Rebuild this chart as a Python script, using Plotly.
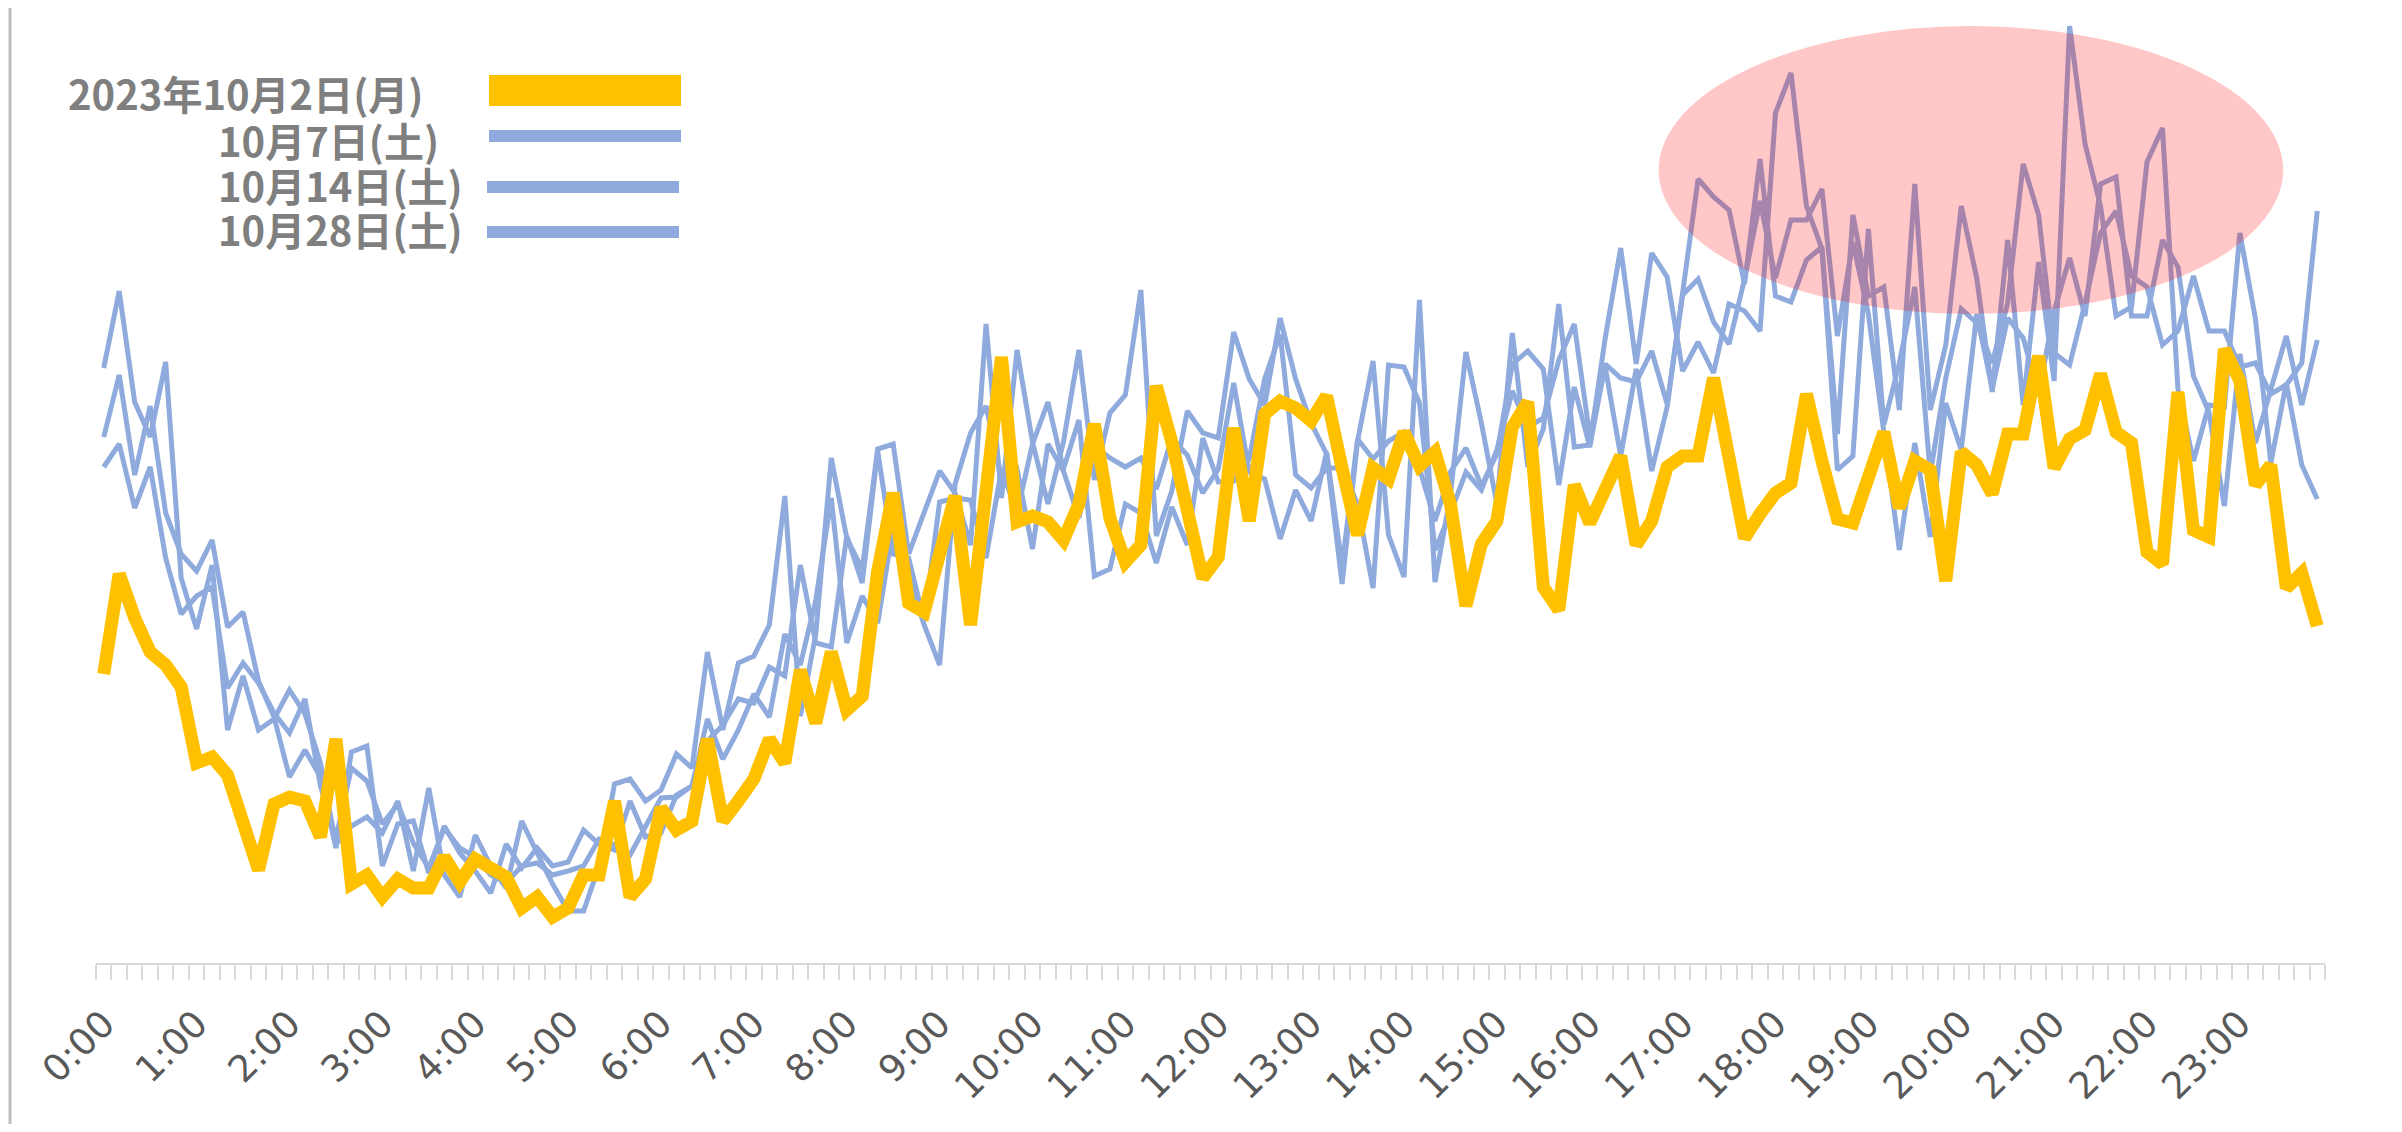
import plotly.graph_objects as go

# 10-minute slots, 0:00 .. 23:50
slots = list(range(144))
hour_ticks = list(range(0, 144, 6))
hour_labels = [f"{h}:00" for h in range(24)]

series_names = ["2023年10月2日(月)", "10月7日(土)", "10月14日(土)", "10月28日(土)"]

oct02 = [289, 389, 345, 311, 298, 276, 200, 206, 188, 140, 93, 159, 166, 162, 126, 224, 79, 88,
         66, 84, 75, 75, 106, 81, 104, 95, 86, 55, 66, 46, 55, 88, 88, 162, 66, 84,
         155, 133, 142, 224, 142, 162, 184, 224, 200, 293, 240, 311, 253, 267, 392, 470, 360, 351,
         412, 467, 338, 472, 606, 441, 447, 441, 423, 459, 539, 445, 401, 418, 577, 521, 454, 385,
         406, 535, 442, 549, 562, 555, 542, 567, 495, 428, 495, 484, 531, 497, 511, 459, 357, 419,
         442, 536, 561, 376, 353, 478, 440, 474, 507, 418, 442, 496, 507, 507, 585, 505, 425, 449,
         470, 480, 569, 502, 444, 440, 489, 531, 455, 502, 493, 382, 511, 498, 469, 529, 529, 607,
         495, 524, 533, 589, 531, 520, 411, 399, 571, 433, 426, 614, 582, 478, 498, 375, 390, 337]

oct07 = [595, 672, 561, 526, 601, 385, 334, 398, 233, 287, 233, 244, 273, 249, 200, 119, 137, 146,
         130, 162, 92, 175, 88, 66, 128, 97, 75, 142, 110, 79, 52, 52, 97, 179, 184, 162,
         173, 209, 195, 311, 233, 300, 307, 338, 467, 247, 329, 505, 425, 394, 514, 519, 409, 450,
         492, 470, 418, 639, 465, 613, 521, 459, 521, 613, 483, 550, 568, 673, 427, 472, 552, 530,
         525, 631, 584, 558, 645, 584, 540, 509, 379, 522, 602, 428, 386, 663, 381, 468, 611, 540,
         459, 630, 496, 534, 659, 516, 518, 625, 715, 599, 710, 686, 592, 621, 590, 659, 652, 632,
         850, 890, 757, 714, 529, 748, 667, 676, 553, 779, 553, 618, 757, 685, 571, 723, 558, 701,
         582, 937, 819, 757, 647, 656, 801, 835, 574, 502, 558, 556, 730, 645, 500, 580, 498, 464]

oct14 = [526, 588, 488, 557, 450, 409, 392, 423, 336, 351, 282, 246, 186, 213, 186, 115, 211, 217,
         97, 139, 142, 90, 137, 110, 92, 70, 119, 95, 115, 97, 101, 133, 119, 113, 162, 126,
         130, 168, 177, 244, 204, 233, 269, 246, 329, 298, 363, 465, 320, 367, 340, 436, 387, 338,
         298, 479, 530, 557, 485, 494, 414, 519, 492, 445, 517, 505, 496, 505, 474, 525, 508, 470,
         494, 580, 491, 484, 424, 473, 442, 511, 397, 524, 504, 522, 531, 495, 442, 491, 515, 477,
         509, 599, 612, 594, 478, 576, 516, 599, 585, 581, 612, 559, 668, 684, 641, 619, 684, 762,
         685, 743, 743, 774, 627, 721, 649, 533, 413, 520, 426, 560, 513, 649, 574, 645, 625, 569,
         652, 705, 647, 779, 786, 647, 647, 723, 696, 587, 551, 457, 609, 520, 574, 627, 558, 623]

oct28 = [496, 519, 455, 496, 405, 349, 367, 376, 275, 300, 280, 250, 230, 264, 177, 125, 195, 182,
         139, 159, 120, 95, 135, 115, 106, 88, 80, 97, 100, 88, 92, 97, 124, 118, 108, 137,
         165, 166, 177, 222, 238, 264, 260, 296, 287, 398, 320, 316, 427, 380, 512, 409, 405, 342,
         461, 465, 463, 405, 494, 450, 519, 561, 494, 543, 387, 394, 459, 450, 400, 456, 418, 525,
         481, 482, 504, 584, 629, 488, 475, 495, 495, 459, 375, 598, 596, 560, 413, 450, 491, 473,
         513, 572, 536, 545, 603, 639, 527, 596, 507, 594, 492, 556, 666, 784, 766, 753, 679, 804,
         667, 661, 703, 716, 493, 507, 734, 538, 600, 676, 489, 585, 654, 640, 600, 660, 799, 748,
         610, 598, 660, 730, 752, 687, 676, 618, 632, 687, 632, 632, 596, 600, 569, 578, 600, 752]

YELLOW = "#FFC000"
BLUE = "#8FAADC"

fig = go.Figure()
for name, vals in zip(series_names[1:], [oct07, oct14, oct28]):
    fig.add_trace(go.Scatter(x=slots, y=vals, mode="lines", name=name, showlegend=False,
                             line=dict(color=BLUE, width=5)))
fig.add_trace(go.Scatter(x=slots, y=oct02, mode="lines", name=series_names[0], showlegend=False,
                         line=dict(color=YELLOW, width=13)))

# the page body has an 8px margin: figure coords = page coords - 8
OFF = 8
W, H = 2386, 1116
ML, MT = 96 - OFF, 13 - OFF
PW, PH = 2229, 950
MR = W - ML - PW
MB = H - MT - PH


def px(x):
    return (x - OFF - ML) / PW


def py(y):
    return (MT + PH - (y - OFF)) / PH


shapes = []
# highlight ellipse
shapes.append(dict(type="circle", xref="x", yref="y", x0=100.45, x1=140.8, y0=649, y1=937,
                   fillcolor="rgba(255,0,0,0.22)", line=dict(width=0), layer="above"))
# left border line
shapes.append(dict(type="line", xref="paper", yref="paper", x0=px(10), x1=px(10), y0=py(1132), y1=py(0),
                   line=dict(color="#BFBFBF", width=3)))

# manual legend (text left, sample bar right)
legend_rows = [
    (series_names[0], 66, 93, YELLOW, 489, 681, 75, 106),
    (series_names[1], 216, 140, BLUE, 489, 681, 130, 142),
    (series_names[2], 216, 185, BLUE, 487, 679, 181, 193),
    (series_names[3], 216, 229, BLUE, 487, 679, 226, 238),
]
annotations = []
for text, tx, ty, col, bx0, bx1, by0, by1 in legend_rows:
    shapes.append(dict(type="rect", xref="paper", yref="paper", x0=px(bx0), x1=px(bx1),
                       y0=py(by1), y1=py(by0), fillcolor=col, line=dict(width=0)))
    annotations.append(dict(xref="paper", yref="paper", x=px(tx), y=py(ty), xanchor="left", yanchor="middle",
                            text=f"<b>{text}</b>", showarrow=False,
                            font=dict(family="Noto Sans CJK JP", size=40, color="#7F7F7F")))

fig.update_layout(
    width=W, height=H,
    margin=dict(l=ML, r=MR, t=MT, b=MB, autoexpand=False),
    paper_bgcolor="white", plot_bgcolor="white",
    shapes=shapes, annotations=annotations,
    xaxis=dict(range=[-0.5, 143.5], showgrid=False, zeroline=False,
               showline=True, linecolor="#D9D9D9", linewidth=2,
               tickmode="array", tickvals=hour_ticks, ticktext=hour_labels,
               ticks="", tickangle=-45, ticklabelstandoff=22,
               tickfont=dict(family="DejaVu Sans", size=37, color="#595959"),
               minor=dict(tickmode="linear", tick0=-0.5, dtick=1, ticks="outside",
                          ticklen=15, tickcolor="#D9D9D9", tickwidth=2, showgrid=False)),
    yaxis=dict(range=[0, 950], visible=False, showgrid=False, zeroline=False),
)

fig.write_html("out.html")
